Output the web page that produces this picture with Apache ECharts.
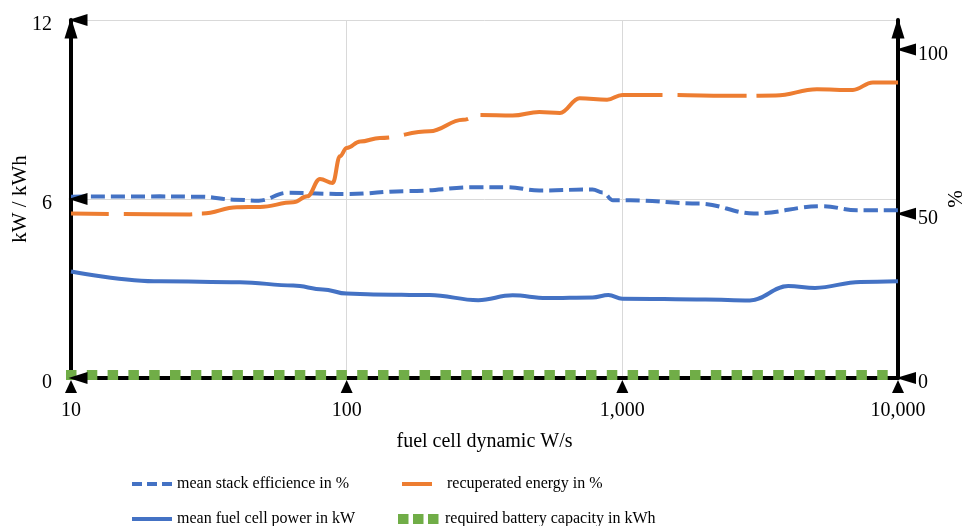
<!DOCTYPE html>
<html><head><meta charset="utf-8">
<script src="https://cdn.jsdelivr.net/npm/echarts@6/dist/echarts.min.js"></script>
<style>html,body{margin:0;padding:0;background:#fff}#c{width:965px;height:526px}</style>
</head><body><div id="c"></div>
<script>
// ---- data ----
const xTicks = [10, 100, 1000, 10000];
const xTickLabels = ['10', '100', '1,000', '10,000'];
const leftTicks = [0, 6, 12];
const rightTicks = [0, 50, 100];

const seriesNames = ['mean stack efficience in %', 'recuperated energy in %', 'mean fuel cell power in kW', 'required battery capacity in kWh'];

const effX = [10, 21, 30, 39, 48, 61, 100, 166, 300, 380, 500, 780, 850, 925, 1070, 1900, 3000, 5300, 7100, 10000];
const effY = [55.2, 55.3, 55.2, 54.3, 54.0, 56.4, 56.0, 56.9, 58.1, 58.1, 57.1, 57.4, 56.5, 54.1, 54.1, 53.1, 50.1, 52.3, 51.1, 51.1];

const recX = [10, 27, 30, 40, 48.5, 64, 72, 80, 89, 94.5, 100, 112, 132, 200, 264, 304, 400, 500, 594, 700, 880, 1000, 1370, 2740, 3600, 5080, 6860, 8110, 10000];
const recY = [50.1, 49.8, 50.1, 52.0, 52.1, 53.5, 55.3, 60.6, 59.4, 67.5, 70.0, 72.0, 73.1, 75.1, 78.6, 80.1, 79.9, 81.0, 80.7, 85.2, 84.7, 86.2, 86.2, 85.9, 86.0, 87.9, 87.7, 90.0, 90.0];

const powX = [10, 21, 41, 64, 82, 100, 125, 200, 300, 400, 530, 780, 890, 1000, 2000, 2900, 4000, 5000, 7300, 10000];
const powY = [3.57, 3.24, 3.21, 3.10, 2.97, 2.83, 2.80, 2.78, 2.61, 2.77, 2.68, 2.70, 2.78, 2.66, 2.63, 2.60, 3.08, 3.02, 3.22, 3.24];

const batX = [10, 10000];
const batY = [0.1, 0.1];

// ---- helpers ----
const pair = (xs, ys) => xs.map((x, i) => [x, ys[i]]);
const FONT = 'Liberation Serif';
const BLUE = '#4472C4', ORANGE = '#ED7D31', GREEN = '#70AD47';
const txt = (size) => ({ fontFamily: FONT, fontSize: size, color: '#000' });

const chart = echarts.init(document.getElementById('c'), null, { renderer: 'canvas' });

const legendBase = { orient: 'horizontal', padding: 0, itemHeight: 14, selectedMode: false };
const hideSym = { opacity: 0, borderWidth: 0 };
const yLabel = { ...txt(20), verticalAlign: 'top', lineHeight: 10 };

chart.setOption({
  animation: false,
  backgroundColor: '#fff',
  grid: { left: 71, right: 67, top: 20, bottom: 148, containLabel: false, outerBoundsMode: 'none' },
  xAxis: {
    type: 'log', logBase: 10, min: 10, max: 10000,
    name: 'fuel cell dynamic W/s', nameLocation: 'middle', nameGap: 54, nameMoveOverlap: false,
    nameTextStyle: txt(20),
    axisLine: { show: true, lineStyle: { color: '#000', width: 4 } },
    axisTick: { show: false },
    axisLabel: { margin: 23, ...txt(20), formatter: v => { const i = xTicks.indexOf(Math.round(v)); return i >= 0 ? xTickLabels[i] : ''; } },
    splitLine: { show: true, lineStyle: { color: '#d9d9d9', width: 1 } },
    minorSplitLine: { show: false }
  },
  yAxis: [
    {
      type: 'value', min: leftTicks[0], max: leftTicks[leftTicks.length - 1], interval: 6,
      name: 'kW / kWh', nameLocation: 'middle', nameGap: 40, nameMoveOverlap: false, nameTextStyle: txt(21),
      axisLine: { show: true, symbol: ['none', 'triangle'], symbolSize: [13, 21], symbolOffset: [0, -8], lineStyle: { color: '#000', width: 4 } },
      axisTick: { show: false },
      axisLabel: { margin: 19, ...yLabel },
      splitLine: { show: true, lineStyle: { color: '#d9d9d9', width: 1 } }
    },
    {
      type: 'value', min: 0, max: 109, interval: 50, position: 'right',
      name: '%', nameLocation: 'middle', nameGap: 48, nameMoveOverlap: false, nameTextStyle: txt(21),
      axisLine: { show: true, symbol: ['none', 'triangle'], symbolSize: [13, 21], symbolOffset: [0, -8], lineStyle: { color: '#000', width: 4 } },
      axisTick: { show: false },
      axisLabel: { margin: 20, ...yLabel, formatter: v => rightTicks.includes(v) ? String(v) : '' },
      splitLine: { show: false }
    }
  ],
  legend: [
    { ...legendBase, left: 130, top: 476, itemWidth: 40, textStyle: txt(16),
      data: [{ name: seriesNames[0], itemStyle: hideSym, lineStyle: { type: [10, 5], width: 4 } }] },
    { ...legendBase, left: 400, top: 476, itemWidth: 30, textStyle: { ...txt(16), padding: [0, 0, 0, 10] },
      data: [{ name: seriesNames[1], itemStyle: hideSym, lineStyle: { type: 'solid', width: 4 } }] },
    { ...legendBase, left: 130, top: 511, itemWidth: 40, textStyle: txt(16),
      data: [{ name: seriesNames[2], itemStyle: hideSym, lineStyle: { type: 'solid', width: 4 } }] },
    { ...legendBase, left: 398, top: 511, itemWidth: 31, textStyle: { ...txt(16), padding: [0, 0, 0, 6] },
      data: [{ name: seriesNames[3], itemStyle: hideSym, lineStyle: { type: [0.5, 14.5], width: 10, cap: 'square' } }] }
  ],
  series: [
    { name: seriesNames[0], type: 'line', yAxisIndex: 1, data: pair(effX, effY), symbol: 'none', smooth: 0.4, smoothMonotone: 'x',
      lineStyle: { color: BLUE, width: 4, type: [14, 6] }, itemStyle: { color: BLUE }, z: 3 },
    { name: seriesNames[1], type: 'line', yAxisIndex: 1, data: pair(recX, recY), symbol: 'none', smooth: 0.4, smoothMonotone: 'x',
      lineStyle: { color: ORANGE, width: 4, type: [38, 15, 68, 10, 227, 15, 67, 13, 189, 15, 69, 10, 600, 0] }, itemStyle: { color: ORANGE }, z: 3 },
    { name: seriesNames[2], type: 'line', yAxisIndex: 0, data: pair(powX, powY), symbol: 'none', smooth: 0.4, smoothMonotone: 'x',
      lineStyle: { color: BLUE, width: 4 }, itemStyle: { color: BLUE }, z: 3 },
    { name: seriesNames[3], type: 'line', yAxisIndex: 0, data: pair(batX, batY), symbol: 'none', clip: false,
      lineStyle: { color: GREEN, width: 10, type: [0.5, 20.3], cap: 'square' }, itemStyle: { color: GREEN }, z: 3 },
    // axis tick triangles (placed at tick values through the axes)
    { type: 'scatter', xAxisIndex: 0, yAxisIndex: 0, data: xTicks.map(v => [v, 0]), symbol: 'triangle', symbolSize: [12, 13], symbolOffset: [0, 8.5],
      itemStyle: { color: '#000', opacity: 1 }, silent: true, clip: false, z: 6 },
    { type: 'scatter', xAxisIndex: 0, yAxisIndex: 0, data: leftTicks.map(v => [xTicks[0], v]), symbol: 'triangle', symbolSize: [12, 19], symbolRotate: 90, symbolOffset: [7, 0],
      itemStyle: { color: '#000', opacity: 1 }, silent: true, clip: false, z: 6 },
    { type: 'scatter', xAxisIndex: 0, yAxisIndex: 1, data: rightTicks.map(v => [xTicks[xTicks.length - 1], v]), symbol: 'triangle', symbolSize: [12, 20], symbolRotate: 90, symbolOffset: [8, 0],
      itemStyle: { color: '#000', opacity: 1 }, silent: true, clip: false, z: 6 }
  ]
});
</script>
</body></html>
